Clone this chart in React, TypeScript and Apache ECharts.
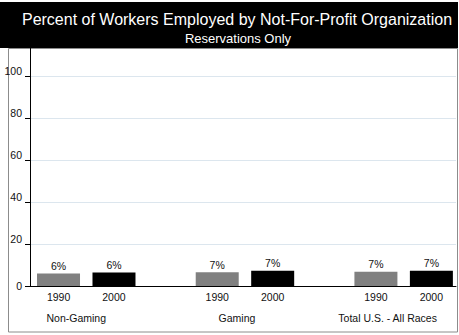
import React, { useEffect, useRef } from "react";
import * as echarts from "echarts";

const groups = ["Non-Gaming", "Gaming", "Total U.S. - All Races"];
const years = ["1990", "2000"];
const values1990 = [6.0, 6.6, 6.8];
const values2000 = [6.4, 7.3, 7.3];
const yMax = 100;
const yStep = 20;
const titleText = "Percent of Workers Employed by Not-For-Profit Organization";
const subtitleText = "Reservations Only";

const FONT = "Arial, 'Liberation Sans', Helvetica, sans-serif";
const TXT = "#111";

export default function App() {
  const ref = useRef<HTMLDivElement>(null);
  useEffect(() => {
    const chart = echarts.init(ref.current!, null, { renderer: "svg" });
    const groupShift = [10, 8, 16];
    const rich: any = {
      y: { width: 43, align: "center", fontSize: 10.5, lineHeight: 21, color: TXT, fontFamily: FONT },
      s: { width: 12.4, align: "center", lineHeight: 21 },
    };
    groupShift.forEach((sh, i) => {
      rich["g" + i] = {
        align: "center",
        fontSize: 10.5,
        lineHeight: 21,
        color: TXT,
        fontFamily: FONT,
        padding: [0, sh * 2, 0, 0],
      };
    });
    const barLabel = {
      show: true,
      position: "top",
      distance: 2,
      fontSize: 10.5,
      color: TXT,
      fontFamily: FONT,
      formatter: (p: any) => Math.round(p.value) + "%",
    };
    chart.setOption({
      animation: false,
      backgroundColor: "#fff",
      grid: [
        { left: 86.25, top: 76, width: 317.4, height: 210, outerBoundsMode: "none", containLabel: false },
        { left: 30, top: 76, right: 3, height: 210, outerBoundsMode: "none", containLabel: false },
      ],
      xAxis: [
        {
          type: "category",
          gridIndex: 0,
          data: groups,
          boundaryGap: false,
          axisLine: { show: false },
          axisTick: { show: false },
          splitLine: { show: false },
          axisLabel: {
            margin: 0,
            interval: 0,
            showMinLabel: true,
            showMaxLabel: true,
            hideOverlap: false,
            formatter: (v: string, i: number) =>
              `{y|${years[0]}}{s|}{y|${years[1]}}\n{g${i}|${v}}`,
            rich,
          },
        },
        {
          type: "value",
          gridIndex: 1,
          min: 0,
          max: 1,
          axisLine: { show: true, onZero: false, lineStyle: { color: "#000", width: 1 } },
          axisTick: { show: false },
          axisLabel: { show: false },
          splitLine: { show: false },
        },
      ],
      yAxis: [
        { type: "value", gridIndex: 0, min: 0, max: yMax, show: false },
        {
          type: "value",
          gridIndex: 1,
          min: 0,
          max: yMax,
          interval: yStep,
          axisLine: { show: true, lineStyle: { color: "#000", width: 1 } },
          axisTick: { show: true, length: 5, lineStyle: { color: "#000" } },
          axisLabel: {
            margin: 8,
            formatter: (v: number) => (v === 0 ? `{z|${v}}` : `{n|${v}}`),
            rich: {
              z: { fontSize: 10.5, color: TXT, fontFamily: FONT },
              n: { fontSize: 10.5, color: TXT, fontFamily: FONT, padding: [0, 0, 10, 0] },
            },
          },
          splitLine: { show: true, lineStyle: { color: "#dce6ee", width: 1 } },
        },
      ],
      series: [
        {
          name: years[0],
          type: "bar",
          xAxisIndex: 0,
          yAxisIndex: 0,
          data: values1990,
          barWidth: 43,
          barGap: "29%",
          clip: false,
          itemStyle: { color: "#808080" },
          label: barLabel,
          z: 3,
        },
        {
          name: years[1],
          type: "bar",
          xAxisIndex: 0,
          yAxisIndex: 0,
          data: values2000,
          barWidth: 43,
          barGap: "29%",
          clip: false,
          itemStyle: { color: "#000" },
          label: barLabel,
          z: 3,
        },
      ],
      graphic: [
        { type: "rect", shape: { x: 0, y: 2, width: 458, height: 46 }, style: { fill: "#000" }, z: 0 },
        {
          type: "rect",
          shape: { x: 8.5, y: 48.5, width: 449, height: 283.5 },
          style: { fill: "none", stroke: "#8c8c8c", lineWidth: 1 },
          z: 0,
        },
        {
          type: "line",
          shape: { x1: 30.5, y1: 48, x2: 30.5, y2: 76 },
          style: { stroke: "#000", lineWidth: 1 },
          z: 5,
        },
        {
          type: "text",
          x: 237,
          y: 19.5,
          style: {
            text: titleText,
            fill: "#fff",
            font: `16px ${FONT}`,
            align: "center",
            verticalAlign: "middle",
            textAlign: "center",
            textVerticalAlign: "middle",
          },
          z: 5,
        },
        {
          type: "text",
          x: 238,
          y: 38.5,
          style: {
            text: subtitleText,
            fill: "#fff",
            font: `13px ${FONT}`,
            align: "center",
            verticalAlign: "middle",
            textAlign: "center",
            textVerticalAlign: "middle",
          },
          z: 5,
        },
      ],
    });
    return () => chart.dispose();
  }, []);
  return (
    <div
      ref={ref}
      style={{ position: "fixed", left: 0, top: 0, width: 459, height: 335, background: "#fff" }}
    />
  );
}
